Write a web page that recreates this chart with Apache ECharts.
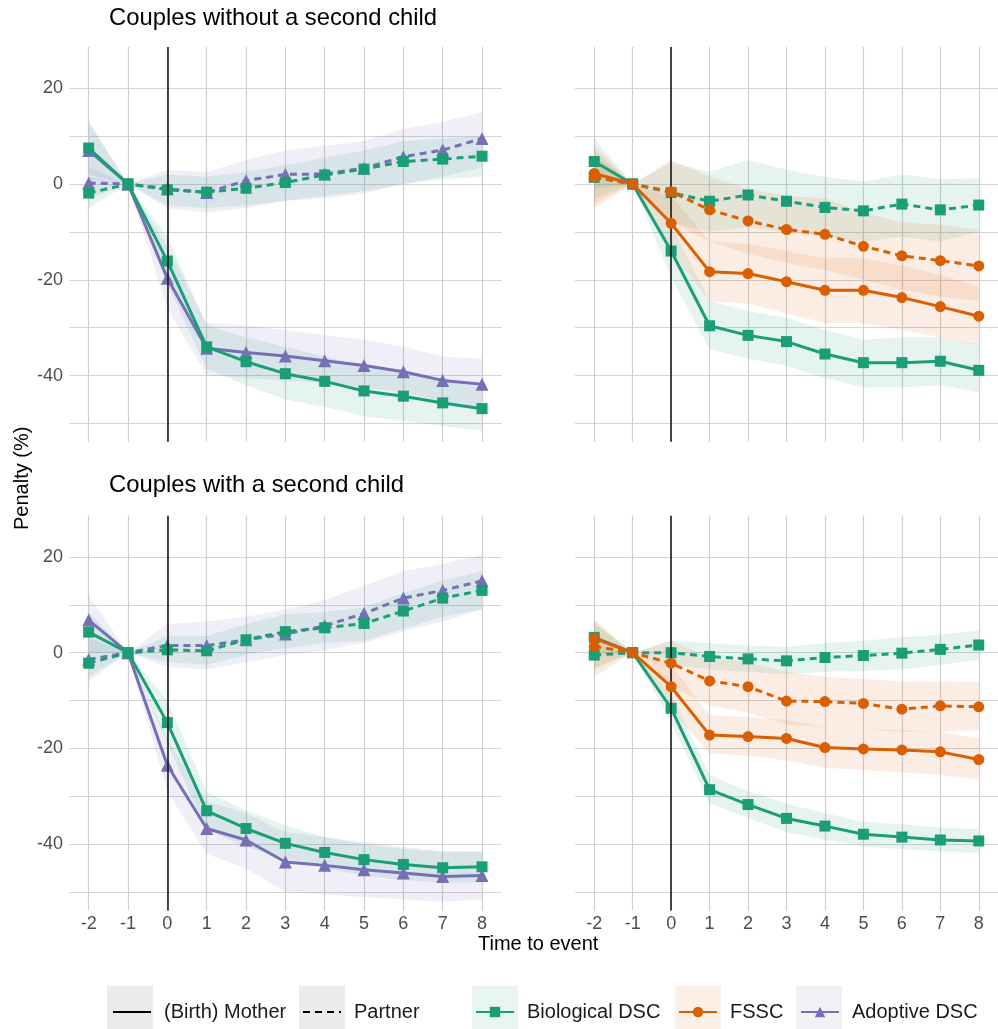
<!DOCTYPE html>
<html>
<head>
<meta charset="utf-8">
<script src="https://cdn.jsdelivr.net/npm/echarts@6/dist/echarts.min.js"></script>
<style>
  html, body { margin: 0; padding: 0; background: #fff; }
  #main { width: 998px; height: 1029px; }
</style>
</head>
<body>
<div id="main"></div>
<script>
// time to event and axis breaks
const years = [-2, -1, 0, 1, 2, 3, 4, 5, 6, 7, 8]
const yTickLabels = [-40, -20, 0, 20]
const yGridValues = [-50, -40, -30, -20, -10, 0, 10, 20]

// couples without a second child, DSC panel
const woBioMother = [7.5, 0, -16.1, -34.0, -37.1, -39.6, -41.2, -43.2, -44.3, -45.7, -46.9]
const woBioMotherLo = [2, 0, -21, -38.5, -42, -45, -46.5, -48.5, -49.5, -50.5, -51.5]
const woBioMotherHi = [13, 0, -11, -29.5, -32, -34, -36, -38, -39, -41, -42.5]
const woAdoptMother = [7.0, 0, -19.7, -34.3, -35.2, -35.9, -36.9, -37.9, -39.2, -41.0, -41.8]
const woAdoptMotherLo = [1, 0, -26, -40, -40.5, -41, -41.5, -42.5, -43.5, -45.5, -46.5]
const woAdoptMotherHi = [13, 0, -13, -29, -29.5, -30.5, -31.5, -32.5, -34, -36, -36.5]
const woBioPartner = [-1.9, 0, -1.2, -1.7, -0.9, 0.3, 1.9, 3.1, 4.7, 5.2, 5.8]
const woBioPartnerLo = [-5, 0, -4.5, -5, -4.5, -3.5, -2.5, -1.5, 0, 1, 1.5]
const woBioPartnerHi = [1.5, 0, 2, 1.5, 2.5, 4, 5.5, 7, 9, 9.5, 10]
const woAdoptPartner = [0.2, 0, -1.0, -1.8, 0.7, 2.0, 2.1, 3.3, 5.7, 7.1, 9.5]
const woAdoptPartnerLo = [-3, 0, -5, -6, -5, -3.5, -3, -2, 0, 1.5, 3.5]
const woAdoptPartnerHi = [3.5, 0, 3, 2.5, 5, 7, 8, 9, 11.5, 13, 15]

// couples without a second child, FSSC panel
const woBioRMother = [4.7, 0, -14.0, -29.6, -31.6, -32.9, -35.5, -37.3, -37.3, -37.0, -38.9]
const woBioRMotherLo = [-1, 0, -19.5, -34.5, -36.5, -38, -40.5, -42.5, -42.5, -42, -43.5]
const woBioRMotherHi = [9.5, 0, -8.5, -24.5, -26.5, -28, -30.5, -32.5, -32, -32, -33.5]
const woFsscMother = [2.2, 0, -8.2, -18.3, -18.7, -20.4, -22.2, -22.2, -23.7, -25.6, -27.6]
const woFsscMotherLo = [-4, 0, -14, -24.5, -25, -27, -29, -29, -30.5, -32, -33.7]
const woFsscMotherHi = [8, 0, -2.5, -12, -12.5, -14, -15.5, -15.5, -17, -19, -21.5]
const woBioRPartner = [1.4, 0, -1.8, -3.6, -2.3, -3.6, -4.9, -5.6, -4.2, -5.4, -4.4]
const woBioRPartnerLo = [-3, 0, -8, -10, -9, -10, -11, -12, -11, -12, -10]
const woBioRPartnerHi = [6, 0, 4.5, 2.5, 5, 3, 1.5, 0.5, 2, 1, 1.2]
const woFsscPartner = [1.5, 0, -1.6, -5.4, -7.7, -9.5, -10.5, -13.0, -15.0, -16.0, -17.1]
const woFsscPartnerLo = [-5, 0, -8, -12, -14.5, -16.5, -18, -20, -22, -23.5, -24.5]
const woFsscPartnerHi = [7, 0, 5, 1.5, -1, -2.5, -3, -6, -8, -8.5, -9.5]

// couples with a second child, DSC panel
const wBioMother = [4.3, 0, -14.6, -33.0, -36.7, -39.8, -41.7, -43.2, -44.2, -44.9, -44.7]
const wBioMotherLo = [0, 0, -19, -37, -40.5, -43, -45, -46.5, -47.5, -48, -48]
const wBioMotherHi = [8.5, 0, -10, -29, -33, -36, -38.5, -40, -41, -41.5, -41.5]
const wAdoptMother = [6.8, 0, -23.5, -36.7, -39.1, -43.7, -44.4, -45.3, -46.0, -46.7, -46.5]
const wAdoptMotherLo = [1, 0, -29, -42, -45, -50, -50.5, -51, -51.5, -52, -51.5]
const wAdoptMotherHi = [12, 0, -18, -31, -33.5, -37.5, -38.5, -39.5, -40.5, -41.5, -41.5]
const wBioPartner = [-2.2, 0, 0.6, 0.4, 2.7, 4.4, 5.2, 6.1, 8.7, 11.4, 13.0]
const wBioPartnerLo = [-5, 0, -2, -2.5, -0.5, 1, 2, 2.5, 5, 7.5, 9]
const wBioPartnerHi = [1, 0, 3.5, 3.5, 6, 8, 8.5, 9.5, 12.5, 15, 17]
const wAdoptPartner = [-1.4, 0, 1.5, 1.5, 2.7, 3.9, 5.6, 8.2, 11.4, 13.0, 15.0]
const wAdoptPartnerLo = [-6, 0, -3, -3.5, -2, -0.5, 0.5, 2, 4.5, 6.5, 9]
const wAdoptPartnerHi = [3, 0, 6, 6.5, 7.5, 9, 11, 14, 17, 18.5, 20.5]

// couples with a second child, FSSC panel
const wBioRMother = [3.2, 0, -11.6, -28.6, -31.7, -34.6, -36.2, -37.9, -38.5, -39.1, -39.3]
const wBioRMotherLo = [0, 0, -14.5, -31.5, -34.5, -37.5, -39, -40.5, -41, -41.5, -41.8]
const wBioRMotherHi = [6.5, 0, -8.5, -25.5, -29, -31.5, -33.5, -35.3, -35.8, -36.5, -36.8]
const wFsscMother = [3.0, 0, -7.1, -17.2, -17.5, -17.9, -19.8, -20.1, -20.3, -20.7, -22.3]
const wFsscMotherLo = [-3, 0, -12, -21, -21.5, -22.5, -24, -24.5, -25, -25.5, -26.6]
const wFsscMotherHi = [7, 0, -2.5, -13, -13.5, -14, -15.5, -16, -16.2, -16.5, -17.9]
const wBioRPartner = [-0.5, 0, 0, -0.8, -1.3, -1.7, -1.0, -0.6, -0.1, 0.7, 1.6]
const wBioRPartnerLo = [-3.5, 0, -2.5, -3.5, -4, -4.5, -4, -3.8, -3.5, -2.5, -1.5]
const wBioRPartnerHi = [3, 0, 2.5, 2, 1.5, 1.2, 2, 2.5, 3.2, 3.8, 4.7]
const wFsscPartner = [1.3, 0, -2.2, -5.9, -7.1, -10.1, -10.2, -10.6, -11.8, -11.1, -11.3]
const wFsscPartnerLo = [-5, 0, -7, -11, -12.5, -15, -15.5, -16, -16.5, -16.5, -16.2]
const wFsscPartnerHi = [6, 0, 2.5, -1, -2, -4, -5, -5.5, -6, -6, -6.1]

const groups = {
  bio: { name: 'Biological DSC', color: '#1b9e77', fill: 'rgba(27,158,119,0.11)', symbol: 'rect', size: 11, z: 4 },
  fssc: { name: 'FSSC', color: '#d95f02', fill: 'rgba(217,95,2,0.11)', symbol: 'circle', size: 11, z: 5 },
  adopt: { name: 'Adoptive DSC', color: '#7570b3', fill: 'rgba(117,112,179,0.11)', symbol: 'triangle', size: 13, z: 3 }
}
const dashPattern = [7, 5]
const font = 'Liberation Sans, Arial, sans-serif'

const chart = echarts.init(document.getElementById('main'))

// panel positions: 0 top-left, 1 top-right, 2 bottom-left, 3 bottom-right
const panels = [
  { left: 69, top: 47 },
  { left: 575, top: 47 },
  { left: 69, top: 515.7 },
  { left: 575, top: 515.7 }
]

const series = []

// confidence band: one polygon through all points of the series
function bandRenderer(fill) {
  return function (params, api) {
    if (params.dataIndex !== 0) return null
    const n = params.dataInsideLength
    const upper = []
    const lower = []
    for (let i = 0; i < n; i++) {
      upper.push(api.coord([api.value(0, i), api.value(2, i)]))
      lower.push(api.coord([api.value(0, i), api.value(1, i)]))
    }
    return {
      type: 'polygon',
      shape: { points: upper.concat(lower.reverse()) },
      style: { fill: fill }
    }
  }
}

function addLine(p, g, role, val, lo, hi) {
  const grp = groups[g]
  series.push({
    type: 'custom',
    xAxisIndex: p,
    yAxisIndex: p,
    silent: true,
    z: 1,
    renderItem: bandRenderer(grp.fill),
    encode: { x: 0, y: [1, 2] },
    data: years.map((x, i) => [x, lo[i], hi[i]])
  })
  series.push({
    type: 'line',
    xAxisIndex: p,
    yAxisIndex: p,
    symbol: grp.symbol,
    symbolSize: grp.size,
    showSymbol: true,
    silent: true,
    z: grp.z,
    itemStyle: { color: grp.color },
    lineStyle: { color: grp.color, width: 3, type: role === 'mother' ? 'solid' : dashPattern },
    data: years.map((x, i) => [x, val[i]])
  })
}

// vertical line at birth for each panel
panels.forEach((pn, p) => {
  series.push({
    type: 'line',
    xAxisIndex: p,
    yAxisIndex: p,
    data: [],
    silent: true,
    z: 2,
    markLine: {
      silent: true,
      symbol: 'none',
      label: { show: false },
      lineStyle: { color: '#1a1a1a', width: 1.6, type: 'solid' },
      data: [{ xAxis: 0 }]
    }
  })
})

addLine(0, 'adopt', 'mother', woAdoptMother, woAdoptMotherLo, woAdoptMotherHi)
addLine(0, 'adopt', 'partner', woAdoptPartner, woAdoptPartnerLo, woAdoptPartnerHi)
addLine(0, 'bio', 'mother', woBioMother, woBioMotherLo, woBioMotherHi)
addLine(0, 'bio', 'partner', woBioPartner, woBioPartnerLo, woBioPartnerHi)

addLine(1, 'bio', 'mother', woBioRMother, woBioRMotherLo, woBioRMotherHi)
addLine(1, 'bio', 'partner', woBioRPartner, woBioRPartnerLo, woBioRPartnerHi)
addLine(1, 'fssc', 'mother', woFsscMother, woFsscMotherLo, woFsscMotherHi)
addLine(1, 'fssc', 'partner', woFsscPartner, woFsscPartnerLo, woFsscPartnerHi)

addLine(2, 'adopt', 'mother', wAdoptMother, wAdoptMotherLo, wAdoptMotherHi)
addLine(2, 'adopt', 'partner', wAdoptPartner, wAdoptPartnerLo, wAdoptPartnerHi)
addLine(2, 'bio', 'mother', wBioMother, wBioMotherLo, wBioMotherHi)
addLine(2, 'bio', 'partner', wBioPartner, wBioPartnerLo, wBioPartnerHi)

addLine(3, 'bio', 'mother', wBioRMother, wBioRMotherLo, wBioRMotherHi)
addLine(3, 'bio', 'partner', wBioRPartner, wBioRPartnerLo, wBioRPartnerHi)
addLine(3, 'fssc', 'mother', wFsscMother, wFsscMotherLo, wFsscMotherHi)
addLine(3, 'fssc', 'partner', wFsscPartner, wFsscPartnerLo, wFsscPartnerHi)

// empty series only used by the legend
series.push(
  { name: '(Birth) Mother', type: 'line', data: [], symbol: 'none', itemStyle: { color: '#000' }, lineStyle: { color: '#000', width: 3, type: 'solid' } },
  { name: 'Partner', type: 'line', data: [], symbol: 'none', itemStyle: { color: '#000' }, lineStyle: { color: '#000', width: 3, type: dashPattern } }
)
Object.keys(groups).forEach(k => {
  const grp = groups[k]
  series.push({ name: grp.name, type: 'line', data: [], symbol: grp.symbol, itemStyle: { color: grp.color }, lineStyle: { color: grp.color, width: 3 } })
})

function legendItem(name, left, hideSymbol) {
  return {
    data: [name],
    left: left,
    top: 1002,
    padding: 0,
    itemWidth: 38,
    itemHeight: 13,
    selectedMode: false,
    itemStyle: hideSymbol ? { opacity: 0 } : {},
    textStyle: { fontSize: 20, color: '#1a1a1a', fontFamily: font, padding: [0, 0, 0, 8] }
  }
}

// legend key backgrounds
const keyBoxes = [
  { x: 107, fill: '#ebebeb' },
  { x: 299, fill: '#ebebeb' },
  { x: 472, fill: '#e8f5f1' },
  { x: 675, fill: '#fbefe6' },
  { x: 796, fill: '#f1f0f7' }
]

const option = {
  animation: false,
  backgroundColor: '#fff',
  textStyle: { fontFamily: font },
  grid: panels.map(pn => ({ left: pn.left, top: pn.top, width: 432.7, height: 394.7 })),
  xAxis: panels.map((pn, p) => ({
    type: 'value',
    gridIndex: p,
    min: -2.5,
    max: 8.5,
    axisLine: { show: false },
    axisTick: { show: false, customValues: years },
    axisLabel: { show: p >= 2, customValues: years, fontSize: 18, color: '#4d4d4d', margin: 5, fontFamily: font },
    splitLine: { show: true, lineStyle: { color: '#cfcfcf', width: 1.2 } }
  })),
  yAxis: panels.map((pn, p) => ({
    type: 'value',
    gridIndex: p,
    min: -53.8,
    max: 28.6,
    axisLine: { show: false },
    axisTick: { show: false, customValues: yGridValues },
    axisLabel: { show: p % 2 === 0, customValues: yTickLabels, fontSize: 18, color: '#4d4d4d', margin: 6, fontFamily: font },
    splitLine: { show: true, lineStyle: { color: '#d4d4d4', width: 1.2 } }
  })),
  legend: [
    legendItem('(Birth) Mother', 112, true),
    legendItem('Partner', 302, true),
    legendItem('Biological DSC', 475, false),
    legendItem('FSSC', 678, false),
    legendItem('Adoptive DSC', 800, false)
  ],
  graphic: [
    { type: 'text', left: 109, top: 6, style: { text: 'Couples without a second child', fill: '#000', font: '23.8px ' + font } },
    { type: 'text', left: 109, top: 473, style: { text: 'Couples with a second child', fill: '#000', font: '23.8px ' + font } },
    { type: 'text', left: 478, top: 934, style: { text: 'Time to event', fill: '#000', font: '20px ' + font } },
    { type: 'text', x: 12, y: 530, rotation: Math.PI / 2, style: { text: 'Penalty (%)', fill: '#000', font: '20px ' + font, textAlign: 'left', textVerticalAlign: 'top' } }
  ].concat(keyBoxes.map(b => ({
    type: 'rect', z: -10, shape: { x: b.x, y: 986, width: 46, height: 43 }, style: { fill: b.fill }
  }))),
  series: series
}

chart.setOption(option)
</script>
</body>
</html>
